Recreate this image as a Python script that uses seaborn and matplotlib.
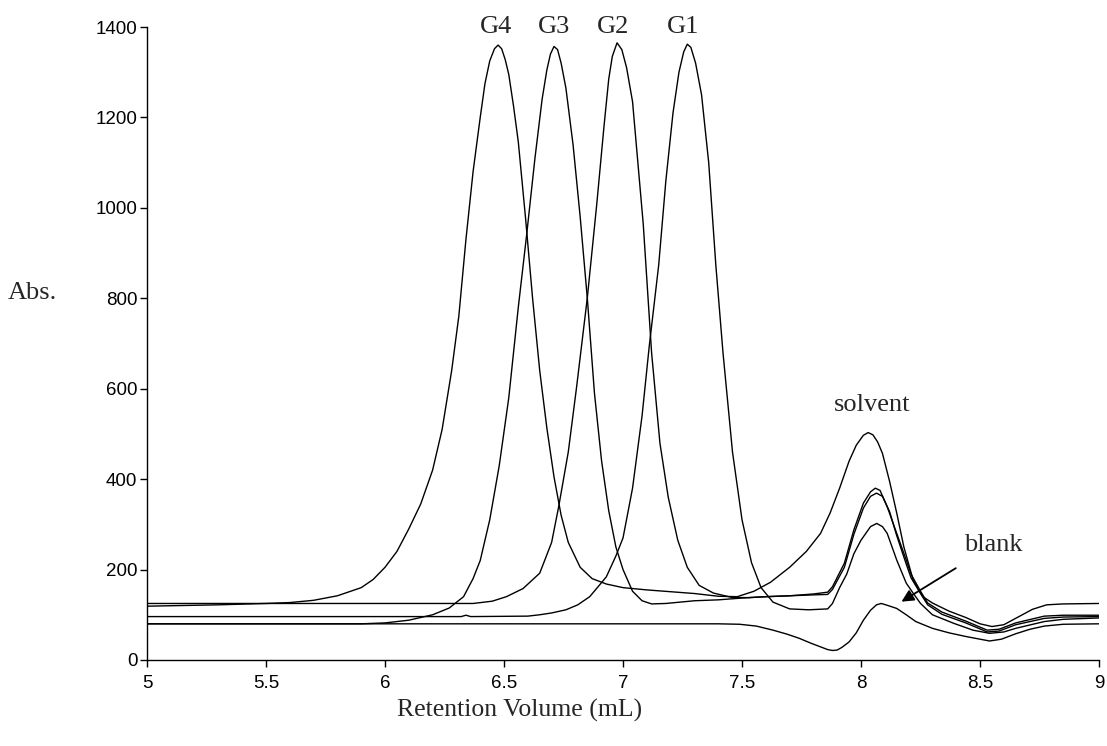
import pandas as pd
import seaborn as sns
import matplotlib
matplotlib.use('Agg')
import matplotlib.pyplot as plt

# (x = retention volume mL, y = Abs.)
g4_x = [5.0, 5.3, 5.5, 5.6, 5.7, 5.8, 5.9, 5.95, 6.0, 6.05,
        6.1, 6.15, 6.2, 6.24, 6.28, 6.31, 6.34, 6.37, 6.4, 6.42,
        6.44, 6.46, 6.475, 6.49, 6.505, 6.52, 6.54, 6.56, 6.59, 6.62,
        6.65, 6.68, 6.71, 6.74, 6.77, 6.82, 6.87, 6.93, 7.0, 7.1,
        7.2, 7.3, 7.4, 7.48, 7.55, 7.62, 7.7, 7.77, 7.83, 7.87,
        7.91, 7.95, 7.98, 8.01, 8.03, 8.05, 8.07, 8.09, 8.12, 8.15,
        8.18, 8.22, 8.26, 8.3, 8.37, 8.44, 8.5, 8.55, 8.6, 8.66,
        8.72, 8.78, 8.85, 9.0]
g4_y = [119, 122, 125, 127, 132, 142, 160, 178, 205, 240,
        290, 345, 420, 510, 640, 760, 930, 1080, 1200, 1275,
        1325, 1352, 1360, 1352, 1328, 1295, 1225, 1146, 980, 800,
        640, 513, 405, 320, 260, 205, 180, 168, 160, 155,
        151, 147, 141, 140, 152, 172, 205, 240, 280, 325,
        380, 440, 475, 497, 503, 498, 482, 457, 395, 325,
        250, 175, 140, 126, 108, 94, 80, 74, 78, 95,
        112, 122, 124, 125]

g3_x = [5.0, 5.9, 6.0, 6.1, 6.2, 6.27, 6.33, 6.37, 6.4, 6.44,
        6.48, 6.52, 6.56, 6.595, 6.63, 6.66, 6.68, 6.695, 6.71, 6.725,
        6.74, 6.76, 6.79, 6.82, 6.85, 6.88, 6.91, 6.94, 6.97, 7.0,
        7.04, 7.08, 7.12, 7.18, 7.3, 7.4, 7.5, 7.6, 7.7, 7.8,
        7.86, 7.88, 7.93, 7.97, 8.01, 8.04, 8.065, 8.09, 8.12, 8.15,
        8.19, 8.21, 8.25, 8.28, 8.34, 8.44, 8.53, 8.58, 8.65, 8.77,
        8.85, 9.0]
g3_y = [80, 80, 82, 88, 100, 115, 140, 180, 220, 310,
        430, 580, 780, 940, 1110, 1240, 1305, 1340, 1357, 1350,
        1320, 1265, 1140, 980, 800, 590, 440, 330, 250, 200,
        152, 131, 124, 125, 131, 133, 137, 140, 142, 144,
        145, 156, 205, 278, 336, 362, 369, 362, 328, 275,
        212, 182, 147, 122, 101, 82, 62, 64, 78, 92,
        95, 96]

g2_x = [5.0, 6.37, 6.45, 6.51, 6.58, 6.65, 6.7, 6.73, 6.77, 6.805,
        6.85, 6.89, 6.92, 6.94, 6.955, 6.975, 6.995, 7.015, 7.04, 7.085,
        7.12, 7.155, 7.19, 7.23, 7.27, 7.32, 7.38, 7.46, 7.53, 7.6,
        7.7, 7.8, 7.86, 7.88, 7.93, 7.97, 8.01, 8.04, 8.06, 8.08,
        8.11, 8.15, 8.19, 8.21, 8.25, 8.28, 8.34, 8.44, 8.53, 8.58,
        8.65, 8.77, 8.85, 9.0]
g2_y = [125, 125, 130, 140, 158, 192, 260, 340, 460, 604,
        801, 1010, 1180, 1285, 1335, 1365, 1350, 1310, 1235, 964,
        680, 480, 360, 265, 205, 165, 148, 138, 138, 140,
        142, 146, 150, 162, 214, 288, 347, 372, 380, 375,
        339, 280, 221, 190, 152, 126, 106, 86, 66, 68,
        82, 97, 99, 99]

g1_x = [5.0, 6.32, 6.34, 6.36, 6.6, 6.65, 6.7, 6.76, 6.81, 6.86,
        6.9, 6.93, 6.97, 7.0, 7.04, 7.08, 7.11, 7.15, 7.18, 7.21,
        7.235, 7.255, 7.27, 7.285, 7.305, 7.33, 7.36, 7.39, 7.42, 7.46,
        7.5, 7.54, 7.58, 7.63, 7.7, 7.78, 7.86, 7.88, 7.91, 7.94,
        7.97, 8.0, 8.04, 8.066, 8.09, 8.11, 8.15, 8.19, 8.22, 8.25,
        8.3, 8.39, 8.47, 8.54, 8.6, 8.65, 8.77, 8.85, 9.0]
g1_y = [96, 96, 99, 96, 97, 100, 104, 111, 122, 140,
        165, 184, 230, 270, 380, 540, 693, 874, 1060, 1210,
        1300, 1345, 1362, 1355, 1320, 1250, 1100, 873, 680, 460,
        310, 215, 160, 128, 113, 111, 113, 125, 160, 190,
        235, 265, 295, 302, 295, 280, 221, 170, 147, 125,
        100, 81, 66, 59, 62, 70, 85, 90, 93]

blank_x = [5.0, 7.4, 7.49, 7.56, 7.63, 7.69, 7.74, 7.79, 7.83, 7.86,
           7.88, 7.9, 7.92, 7.95, 7.98, 8.01, 8.04, 8.065, 8.085, 8.11,
           8.15, 8.19, 8.23, 8.3, 8.37, 8.44, 8.5, 8.54, 8.59, 8.65,
           8.71, 8.77, 8.85, 9.0]
blank_y = [80, 80, 79, 75, 66, 57, 48, 37, 29, 23,
           21, 22, 28, 40, 60, 88, 110, 122, 125, 121,
           114, 100, 85, 70, 60, 52, 46, 42, 46, 58,
           68, 75, 79, 80]

peak_labels = ['G4', 'G3', 'G2', 'G1']
peak_label_x = [6.466, 6.71, 6.958, 7.252]

traces = {'G4': (g4_x, g4_y), 'G3': (g3_x, g3_y), 'G2': (g2_x, g2_y),
          'G1': (g1_x, g1_y), 'blank': (blank_x, blank_y)}
frames = []
for name, (xs, ys) in traces.items():
    frames.append(pd.DataFrame({'vol': xs, 'abs': ys, 'trace': name}))
df = pd.concat(frames, ignore_index=True)

sns.set_style('ticks')
plt.rcParams['font.family'] = ['Liberation Sans', 'DejaVu Sans']
serif = ['Liberation Serif', 'DejaVu Serif']

fig = plt.figure(figsize=(11.07, 7.46), dpi=100)
ax = fig.add_axes([0.1328, 0.1153, 0.86, 0.8485])

sns.lineplot(data=df, x='vol', y='abs', units='trace', estimator=None,
             sort=False, color='black', linewidth=1.0, ax=ax)

ax.set_xlim(5, 9)
ax.set_ylim(0, 1400)
ax.set_xticks([5, 5.5, 6, 6.5, 7, 7.5, 8, 8.5, 9])
ax.set_xticklabels(['5', '5.5', '6', '6.5', '7', '7.5', '8', '8.5', '9'])
ax.set_yticks(range(0, 1401, 200))
ax.tick_params(axis='both', direction='out', length=5, width=1,
               labelsize=13.5, colors='black')
ax.tick_params(axis='x', pad=6)
ax.tick_params(axis='y', pad=2)
for s in ['left', 'bottom']:
    ax.spines[s].set_color('black')
    ax.spines[s].set_linewidth(1)
sns.despine(ax=ax)
ax.set_xlabel('')
ax.set_ylabel('')

for lab, xv in zip(peak_labels, peak_label_x):
    ax.text(xv, 1400, lab, ha='center', va='center', fontsize=19, family=serif)
ax.text(8.046, 564, 'solvent', ha='center', va='center', fontsize=19, family=serif)
ax.annotate('blank', xy=(8.17, 129), xytext=(8.555, 254),
            ha='center', va='center', fontsize=19, family=serif,
            arrowprops=dict(arrowstyle='-|>', color='black', lw=1.3,
                            shrinkA=12, shrinkB=0, mutation_scale=18))

fig.text(520 / 1107, 1 - 710 / 746, 'Retention Volume (mL)', ha='center',
         va='center', fontsize=18.5, family=serif)
fig.text(8 / 1107, 1 - 293 / 746, 'Abs.', ha='left', va='center',
         fontsize=19, family=serif)

fig.savefig('out.png', dpi=100)
